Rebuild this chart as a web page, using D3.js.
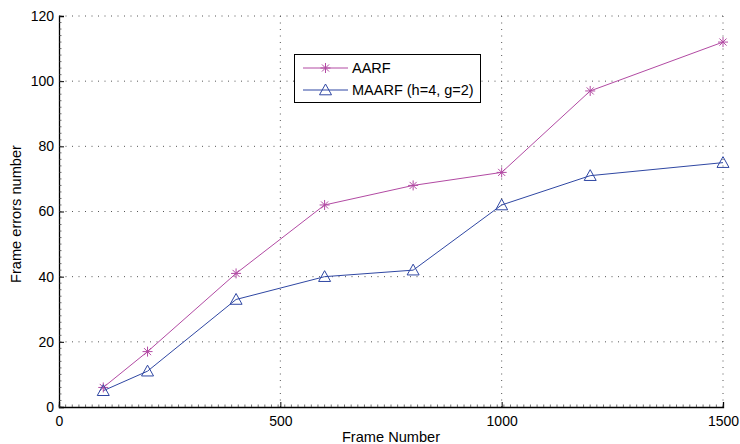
<!DOCTYPE html>
<html>
<head>
<meta charset="utf-8">
<script src="https://cdn.jsdelivr.net/npm/d3@7"></script>
<style>
  html, body { margin: 0; padding: 0; background: #fff; }
  text { font-family: "Liberation Sans", Arial, Helvetica, sans-serif; fill: #000; }
</style>
</head>
<body>
<svg id="chart" width="740" height="444"></svg>
<script>
// Frame numbers sampled on the x axis
const frames = [100, 200, 400, 600, 800, 1000, 1200, 1500];
// Frame error counts per algorithm
const aarf = [6, 17, 41, 62, 68, 72, 97, 112];
const maarf = [5, 11, 33, 40, 42, 62, 71, 75];
const seriesNames = ["AARF", "MAARF (h=4, g=2)"];
const xTicks = [0, 500, 1000, 1500];
const yTicks = [0, 20, 40, 60, 80, 100, 120];

const colAarf = "#b24aa3";
const colMaarf = "#2f47a3";

const svg = d3.select("#chart");
const m = { left: 59, right: 723, top: 16, bottom: 407 };

const x = d3.scaleLinear().domain([0, 1500]).range([m.left, m.right]);
const y = d3.scaleLinear().domain([0, 120]).range([m.bottom, m.top]);

// dotted grid
const grid = svg.append("g");
grid.selectAll("line.gx").data(xTicks.filter(d => d > 0)).join("line")
  .attr("x1", d => x(d)).attr("x2", d => x(d))
  .attr("y1", m.bottom).attr("y2", m.top)
  .attr("stroke", "#555").attr("stroke-width", 1)
  .attr("stroke-dasharray", "1,5.5");
grid.selectAll("line.gy").data(yTicks.filter(d => d > 0)).join("line")
  .attr("x1", m.left).attr("x2", m.right)
  .attr("y1", d => y(d)).attr("y2", d => y(d))
  .attr("stroke", "#555").attr("stroke-width", 1)
  .attr("stroke-dasharray", "1,5.5");

// axes with inward major and minor ticks
const xAxis = svg.append("g").attr("transform", `translate(0,${m.bottom})`)
  .call(d3.axisBottom(x).tickValues(xTicks).tickSize(-5).tickPadding(9).tickFormat(d3.format("d")));
const yAxis = svg.append("g").attr("transform", `translate(${m.left},0)`)
  .call(d3.axisLeft(y).tickValues(yTicks).tickSize(-5).tickPadding(5).tickFormat(d3.format("d")));
[xAxis, yAxis].forEach(g => {
  g.select(".domain").attr("stroke", "#000").attr("stroke-width", 1.3);
  g.selectAll(".tick line").attr("stroke", "#000");
  g.selectAll(".tick text").attr("font-size", 14).attr("font-family", "'Liberation Sans', Arial, sans-serif");
});

const xMinor = d3.range(0, 1501, 15);
svg.append("g").selectAll("line").data(xMinor).join("line")
  .attr("x1", d => x(d)).attr("x2", d => x(d))
  .attr("y1", m.bottom).attr("y2", m.bottom - 2.5)
  .attr("stroke", "#333").attr("stroke-width", 0.7);
const yMinor = d3.range(0, 121, 2);
svg.append("g").selectAll("line").data(yMinor).join("line")
  .attr("x1", m.left).attr("x2", m.left + 2.5)
  .attr("y1", d => y(d)).attr("y2", d => y(d))
  .attr("stroke", "#333").attr("stroke-width", 0.7);

// axis titles
svg.append("text").attr("x", 391).attr("y", 442).attr("text-anchor", "middle")
  .attr("font-size", 14.6).text("Frame Number");
svg.append("text").attr("transform", "translate(21,214) rotate(-90)").attr("text-anchor", "middle")
  .attr("font-size", 14.6).text("Frame errors number");

const line = d3.line().x(d => x(d[0])).y(d => y(d[1]));

function star(g, cx, cy, r, color) {
  const s = g.append("g").attr("stroke", color).attr("stroke-width", 1).attr("fill", "none");
  [0, 45, 90, 135].forEach(a => {
    const rad = a * Math.PI / 180;
    s.append("line")
      .attr("x1", cx - r * Math.cos(rad)).attr("y1", cy - r * Math.sin(rad))
      .attr("x2", cx + r * Math.cos(rad)).attr("y2", cy + r * Math.sin(rad));
  });
}
function tri(g, cx, cy, r, color) {
  g.append("path")
    .attr("d", `M${cx},${cy - r}L${cx + r},${cy + r * 0.8}L${cx - r},${cy + r * 0.8}Z`)
    .attr("fill", "none").attr("stroke", color).attr("stroke-width", 1);
}

const dA = frames.map((f, i) => [f, aarf[i]]);
const dM = frames.map((f, i) => [f, maarf[i]]);

svg.append("path").datum(dA).attr("d", line).attr("fill", "none").attr("stroke", colAarf).attr("stroke-width", 1);
svg.append("path").datum(dM).attr("d", line).attr("fill", "none").attr("stroke", colMaarf).attr("stroke-width", 1);

const mk = svg.append("g");
dA.forEach(d => star(mk, x(d[0]), y(d[1]), 5, colAarf));
dM.forEach(d => tri(mk, x(d[0]), y(d[1]), 6, colMaarf));

// legend
const lg = svg.append("g");
lg.append("rect").attr("x", 294.5).attr("y", 54.5).attr("width", 186).attr("height", 48)
  .attr("fill", "#fff").attr("stroke", "#000").attr("stroke-width", 1);
const rows = [
  { name: seriesNames[0], color: colAarf, ty: 68, draw: (cx, cy) => star(lg, cx, cy, 5, colAarf) },
  { name: seriesNames[1], color: colMaarf, ty: 90, draw: (cx, cy) => tri(lg, cx, cy, 6, colMaarf) }
];
rows.forEach(r => {
  lg.append("line").attr("x1", 303).attr("x2", 348).attr("y1", r.ty).attr("y2", r.ty)
    .attr("stroke", r.color).attr("stroke-width", 1);
  r.draw(325.5, r.ty);
  lg.append("text").attr("x", 352).attr("y", r.ty + 5).attr("font-size", 14.5).text(r.name);
});
</script>
</body>
</html>
